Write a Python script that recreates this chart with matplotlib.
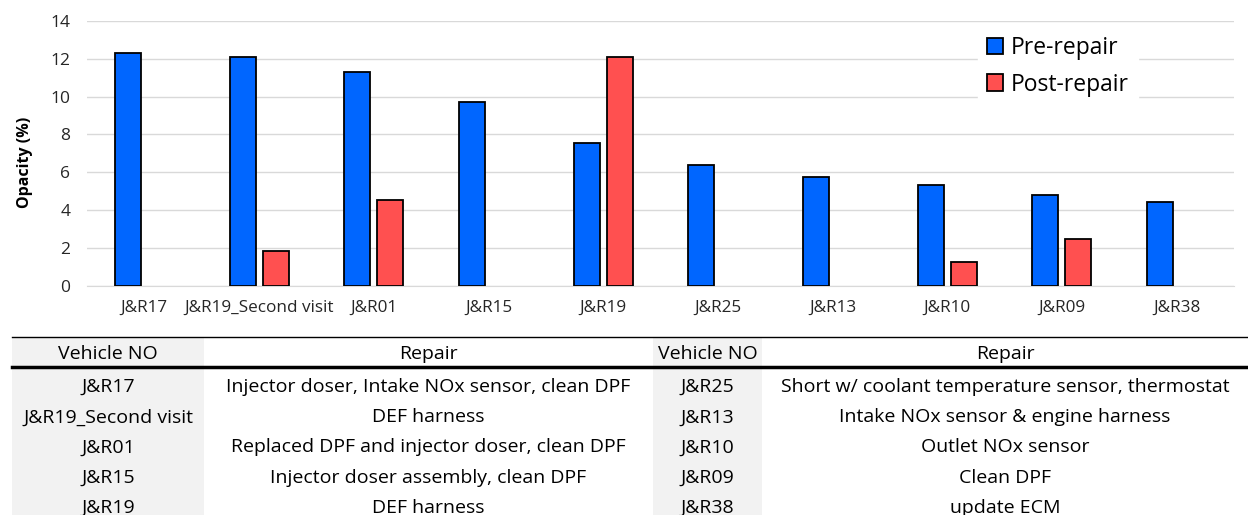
import numpy as np
import matplotlib.pyplot as plt
from matplotlib.patches import Rectangle

plt.rcParams['font.family'] = ['Open Sans', 'DejaVu Sans']

vehicles = ['J&R17', 'J&R19_Second visit', 'J&R01', 'J&R15', 'J&R19',
            'J&R25', 'J&R13', 'J&R10', 'J&R09', 'J&R38']
pre_repair = [12.3, 12.1, 11.3, 9.7, 7.55, 6.4, 5.75, 5.3, 4.8, 4.4]
post_repair = [0, 1.8, 4.5, 0, 12.1, 0, 0, 1.25, 2.45, 0]

table_left_ids = ['J&R17', 'J&R19_Second visit', 'J&R01', 'J&R15', 'J&R19']
table_left_repairs = ['Injector doser, Intake NOx sensor, clean DPF', 'DEF harness',
                      'Replaced DPF and injector doser, clean DPF',
                      'Injector doser assembly, clean DPF', 'DEF harness']
table_right_ids = ['J&R25', 'J&R13', 'J&R10', 'J&R09', 'J&R38']
table_right_repairs = ['Short w/ coolant temperature sensor, thermostat',
                       'Intake NOx sensor & engine harness', 'Outlet NOx sensor',
                       'Clean DPF', 'update ECM']

W, H = 1248, 515
fig = plt.figure(figsize=(W / 100, H / 100), dpi=100)

# -- bar chart
ax = fig.add_axes([87 / W, (H - 285.5) / H, (1234 - 87) / W, (285.5 - 21) / H])
x = np.arange(len(vehicles))
w = 0.227
off = 0.144
pre = np.array(pre_repair)
post = np.array(post_repair)
ax.bar(x - off, pre, w, color='#0066ff', edgecolor='black', linewidth=1.3,
       label='Pre-repair', zorder=3)
mask = post > 0
ax.bar(x[mask] + off, post[mask], w, color='#ff5050', edgecolor='black',
       linewidth=1.3, label='Post-repair', zorder=3)
ax.set_xlim(-0.5, len(vehicles) - 0.5)
ax.set_ylim(0, 14)
ax.set_yticks(range(0, 15, 2))
ax.set_xticks(x)
ax.set_xticklabels(vehicles, fontsize=12.3, color='#262626')
ax.tick_params(axis='y', labelsize=12.5, colors='#262626', length=0, pad=12)
ax.tick_params(axis='x', length=0, pad=10)
ax.grid(axis='y', color='#d9d9d9', linewidth=1, zorder=0)
for s in ['top', 'right', 'left']:
    ax.spines[s].set_visible(False)
ax.spines['bottom'].set_color('#d9d9d9')
ax.set_ylabel('Opacity (%)', fontsize=11.5, fontweight='bold')
ax.yaxis.set_label_coords(-0.047, 0.467)

leg = ax.legend(loc='upper left', bbox_to_anchor=((972 - 87) / 1147, 1.0), fontsize=16.5,
                frameon=True, fancybox=False, framealpha=1, edgecolor='white',
                handlelength=0.7, handleheight=0.7, handletextpad=0.35,
                labelspacing=0.55, borderpad=0.4, borderaxespad=0.25)

# -- table underneath
tx = fig.add_axes([0, 0, 1, 1])
tx.set_xlim(0, W)
tx.set_ylim(H, 0)
tx.axis('off')

cols = [12, 204, 653, 762, W]
top = 337
head_h = 30
row_h = 30.2
gray = '#f2f2f2'

# gray vehicle columns
for c in (0, 2):
    tx.add_patch(Rectangle((cols[c], top), cols[c + 1] - cols[c], H - top,
                           facecolor=gray, edgecolor='none'))

tx.plot([cols[0], W], [top, top], color='black', linewidth=1)
tx.plot([cols[0], W], [top + head_h, top + head_h], color='black', linewidth=2.5)

headers = ['Vehicle NO', 'Repair', 'Vehicle NO', 'Repair']
for i, h in enumerate(headers):
    tx.text((cols[i] + cols[i + 1]) / 2, top + head_h / 2 + 2, h, ha='center',
            va='center', fontsize=14, color='black')

for r in range(5):
    yc = top + head_h + row_h * (r + 0.5) + 5
    row = [table_left_ids[r], table_left_repairs[r],
           table_right_ids[r], table_right_repairs[r]]
    for i, t in enumerate(row):
        tx.text((cols[i] + cols[i + 1]) / 2, yc, t, ha='center', va='center',
                fontsize=14, color='black')

fig.savefig('out.png', dpi=100)
